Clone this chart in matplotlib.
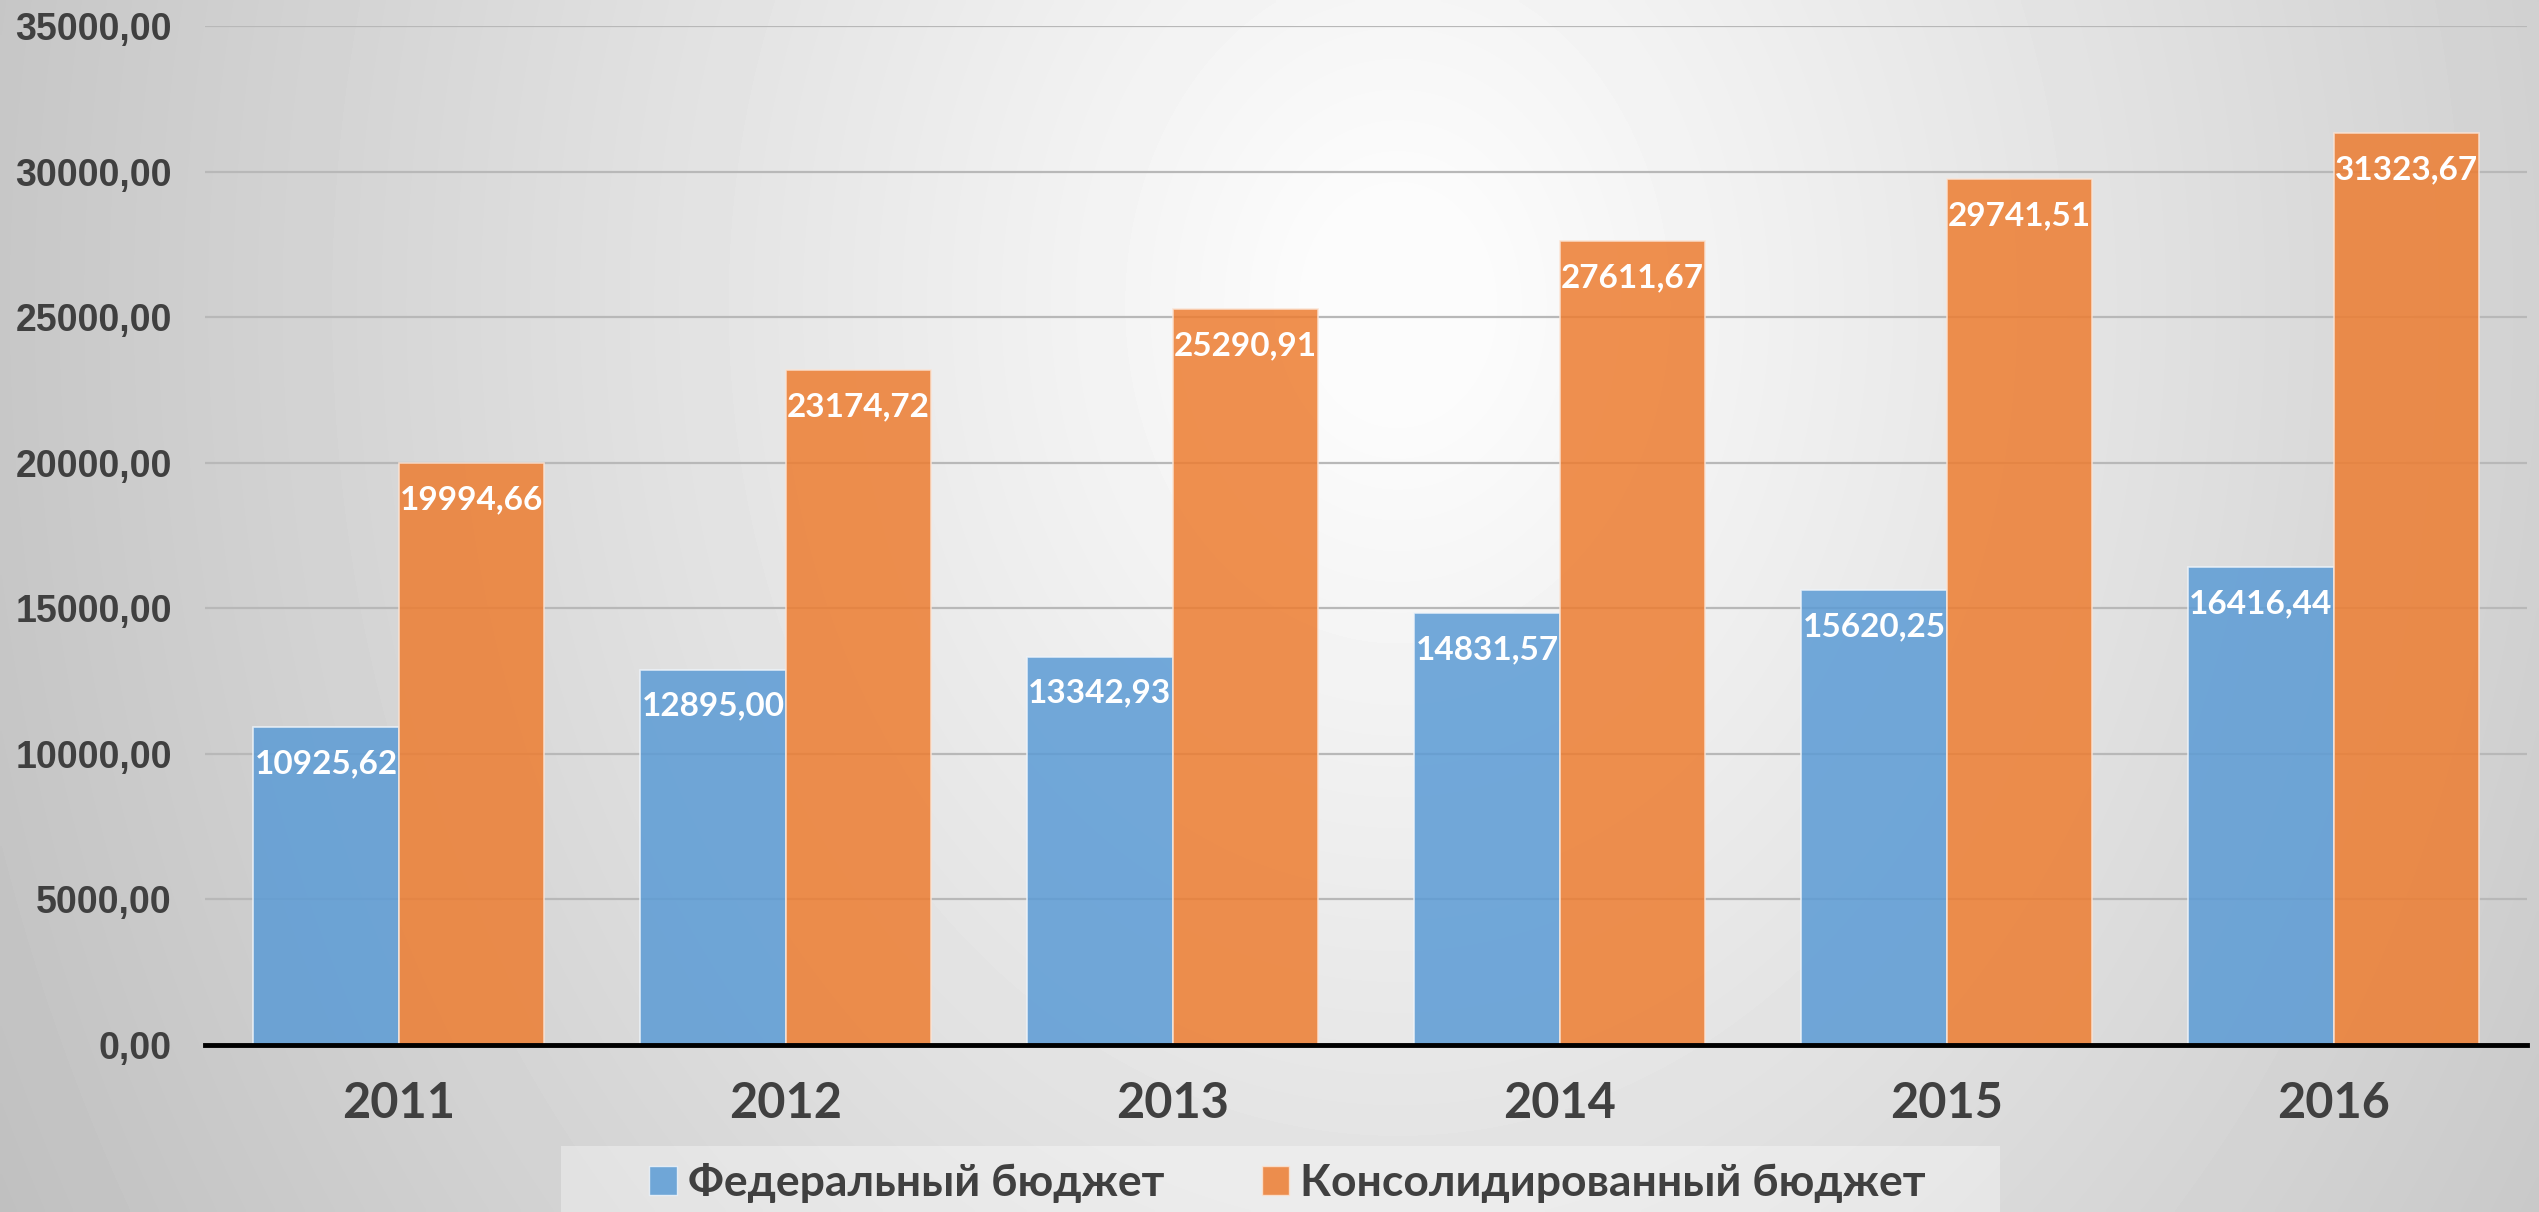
import matplotlib
matplotlib.use('Agg')
import matplotlib.pyplot as plt
import numpy as np
from matplotlib.patches import Rectangle, Patch

years = ['2011', '2012', '2013', '2014', '2015', '2016']
federal = [10925.62, 12895.00, 13342.93, 14831.57, 15620.25, 16416.44]
consolidated = [19994.66, 23174.72, 25290.91, 27611.67, 29741.51, 31323.67]
series_names = ['Федеральный бюджет', 'Консолидированный бюджет']
yticks = [0, 5000, 10000, 15000, 20000, 25000, 30000, 35000]

BLUE = '#5b9bd5'
ORANGE = '#ed7d31'
TXT = '#404040'

def fmt(v):
    return f"{v:.2f}".replace('.', ',')

W, H = 2539, 1212
fig = plt.figure(figsize=(W / 100, H / 100), dpi=100)

# radial gradient background
bg = fig.add_axes([0, 0, 1, 1], zorder=-10)
bg.axis('off')
yy, xx = np.mgrid[0:H:4, 0:W:4]
dx = (xx - 0.55 * W) / (0.5 * W)
dy = (yy - 0.25 * H) / (1.3 * H)
r = np.sqrt(dx ** 2 + dy ** 2)
val = np.clip(1.0 - 0.2 * r, 0, 0.985)
bg.imshow(val, cmap='gray', vmin=0, vmax=1, aspect='auto', extent=[0, 1, 0, 1],
          origin='upper', interpolation='bilinear')
bg.set_xlim(0, 1); bg.set_ylim(0, 1)

ax = fig.add_axes([205 / W, 1 - 1045 / H, (2527 - 205) / W, (1045 - 26) / H])
ax.patch.set_alpha(0)

x = np.arange(len(years))
w = 0.375
ax.bar(x - w / 2, federal, w, color=BLUE, alpha=0.85, edgecolor='#eef4fa', linewidth=1.2, zorder=3)
ax.bar(x + w / 2, consolidated, w, color=ORANGE, alpha=0.85, edgecolor='#fbe3d3', linewidth=1.2, zorder=3)

lab_font = dict(family=['Lato', 'DejaVu Sans'], weight='bold')
for xi, v in zip(x - w / 2, federal):
    ax.annotate(fmt(v), (xi, v), xytext=(0, -16), textcoords='offset points',
                ha='center', va='top', color='white', fontsize=24, zorder=5, **lab_font)
for xi, v in zip(x + w / 2, consolidated):
    ax.annotate(fmt(v), (xi, v), xytext=(0, -16), textcoords='offset points',
                ha='center', va='top', color='white', fontsize=24, zorder=5, **lab_font)

ax.set_xlim(-0.5, len(years) - 0.5)
ax.set_ylim(0, 35000)
ax.set_yticks(yticks)
ax.set_yticklabels([fmt(t) for t in yticks], fontsize=27, fontweight='bold',
                   family='Liberation Sans', color=TXT)
ax.set_xticks(x)
ax.set_xticklabels(years, fontsize=35, color=TXT, **lab_font)
ax.tick_params(axis='y', length=0, pad=24)
ax.tick_params(axis='x', length=0, pad=26)

ax.yaxis.grid(True, color='#b8b8b8', linewidth=1.6, zorder=0)
ax.set_axisbelow(True)
for s in ['left', 'right', 'top']:
    ax.spines[s].set_visible(False)
ax.spines['bottom'].set_color('black')
ax.spines['bottom'].set_linewidth(3.5)
ax.spines['bottom'].set_zorder(4)

# legend background
fig.patches.append(Rectangle((561 / W, 0), (2000 - 561) / W, (1212 - 1146) / H,
                             transform=fig.transFigure, facecolor='white', alpha=0.35,
                             edgecolor='none', zorder=1))
handles = [Patch(facecolor=BLUE, alpha=0.85, edgecolor='#eef4fa'),
           Patch(facecolor=ORANGE, alpha=0.85, edgecolor='#fbe3d3')]
leg = fig.legend(handles, series_names, loc='center', bbox_to_anchor=(1287.5 / W, 1 - 1183 / H),
                 ncol=2, frameon=False,
                 prop={'family': ['Lato', 'Open Sans', 'DejaVu Sans'], 'weight': 'bold', 'size': 32},
                 handlelength=0.62, handleheight=0.62, handletextpad=0.25, columnspacing=2.2)
for t in leg.get_texts():
    t.set_color(TXT)

fig.savefig('out.png', dpi=100)
